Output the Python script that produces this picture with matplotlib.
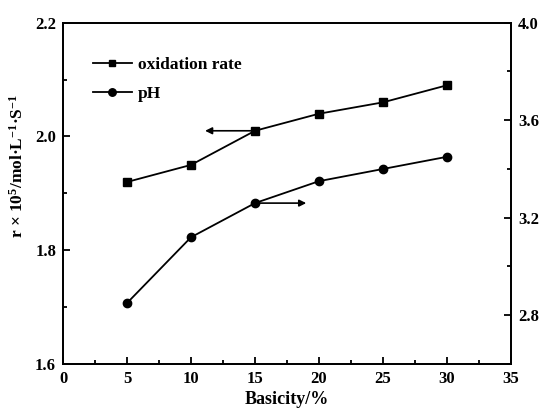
import matplotlib
matplotlib.use("Agg")
import matplotlib.pyplot as plt
from matplotlib.ticker import MultipleLocator

plt.rcParams['font.family'] = ['Liberation Serif', 'DejaVu Serif']
plt.rcParams['font.weight'] = 'bold'
plt.rcParams['mathtext.fontset'] = 'custom'
plt.rcParams['mathtext.rm'] = 'Liberation Serif:bold'
plt.rcParams['mathtext.bf'] = 'Liberation Serif:bold'
plt.rcParams['mathtext.default'] = 'rm'

basicity = [5, 10, 15, 20, 25, 30]
oxidation_rate = [1.92, 1.95, 2.01, 2.04, 2.06, 2.09]
ph = [2.85, 3.12, 3.26, 3.35, 3.40, 3.45]

fig = plt.figure(figsize=(5.4, 4.09), dpi=100)
ax = fig.add_axes([0.1167, 0.110, 0.8296, 0.8345])
ax2 = ax.twinx()

l1, = ax.plot(basicity, oxidation_rate, '-s', color='black', lw=1.3, ms=5.5,
              label='oxidation rate')
l2, = ax2.plot(basicity, ph, '-o', color='black', lw=1.3, ms=6, label='pH')

ax.set_xlim(0, 35)
ax.set_ylim(1.6, 2.2)
ax2.set_ylim(2.6, 4.0)

ax.xaxis.set_major_locator(MultipleLocator(5))
ax.xaxis.set_minor_locator(MultipleLocator(2.5))
ax.yaxis.set_major_locator(MultipleLocator(0.2))
ax.yaxis.set_minor_locator(MultipleLocator(0.1))
ax2.yaxis.set_major_locator(MultipleLocator(0.4))
ax2.yaxis.set_minor_locator(MultipleLocator(0.2))
ax.yaxis.set_major_formatter(plt.FormatStrFormatter('%.1f'))
ax2.yaxis.set_major_formatter(plt.FormatStrFormatter('%.1f'))

ax.tick_params(which='both', direction='in', width=1.3, labelsize=12, top=False)
ax.tick_params(which='major', length=5, pad=5)
ax.tick_params(which='minor', length=3)
ax2.tick_params(which='both', direction='in', width=1.3, labelsize=12)
ax2.tick_params(which='major', length=5, pad=5)
ax2.tick_params(which='minor', length=3)
for a in (ax, ax2):
    for s in a.spines.values():
        s.set_linewidth(1.3)

ax.set_xlabel('Basicity/%', fontsize=13, fontweight='bold', labelpad=3)
ax.set_ylabel(r'r × 10$^{5}$/mol·L$^{-1}$·S$^{-1}$', fontsize=12.5,
              fontweight='bold')
ax.yaxis.set_label_coords(-0.08, 0.58)

# arrows pointing to each series' axis
ax.annotate('', xy=(11.1, oxidation_rate[2]), xytext=(basicity[2], oxidation_rate[2]),
            arrowprops=dict(arrowstyle='-|>', color='black', lw=1.2,
                            mutation_scale=10, shrinkA=0, shrinkB=0))
ax2.annotate('', xy=(19.0, ph[2]), xytext=(basicity[2], ph[2]),
             arrowprops=dict(arrowstyle='-|>', color='black', lw=1.2,
                             mutation_scale=10, shrinkA=0, shrinkB=0))

ax.legend([l1, l2], ['oxidation rate', 'pH'], loc='upper left',
          bbox_to_anchor=(0.031, 0.945), frameon=False, handlelength=2.3,
          handletextpad=0.3, labelspacing=0.75, fontsize=12.5, markerscale=0.9)

fig.savefig('out.png', dpi=100)
